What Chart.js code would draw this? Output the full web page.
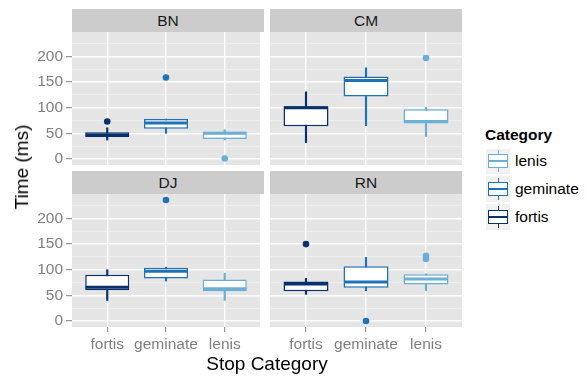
<!DOCTYPE html>
<html>
<head>
<meta charset="utf-8">
<script src="https://cdn.jsdelivr.net/npm/chart.js@4.4.0/dist/chart.umd.min.js"></script>
<style>
body { margin:0; width:587px; height:376px; position:relative; overflow:hidden; background:#fff;
       font-family:"Liberation Sans", Arial, sans-serif; }
canvas { position:absolute; }
.strip { position:absolute; background:#CCCCCC; color:#1A1A1A; font-size:15.5px; text-align:center; line-height:23px; height:23px; }
.title { position:absolute; white-space:nowrap; color:#000; font-size:19px; }
.legtitle { position:absolute; font-size:15.5px; font-weight:bold; color:#000; }
.key { position:absolute; width:26px; height:27.7px; background:#F2F2F2; box-sizing:border-box; border:1px solid #fff; }
.key div { position:absolute; box-sizing:border-box; }
.leglab { position:absolute; font-size:15.5px; color:#000; line-height:18px; }
</style>
</head>
<body>

<div class="strip" style="left:72px; top:9px; width:192px;" id="s0"></div>
<div class="strip" style="left:270px; top:9px; width:192px;" id="s1"></div>
<div class="strip" style="left:72px; top:171px; width:192px;" id="s2"></div>
<div class="strip" style="left:270px; top:171px; width:192px;" id="s3"></div>

<canvas id="c0" width="264" height="141" style="left:0px; top:28px;"></canvas>
<canvas id="c1" width="200" height="141" style="left:266px; top:28px;"></canvas>
<canvas id="c2" width="264" height="170" style="left:0px; top:190px;"></canvas>
<canvas id="c3" width="200" height="170" style="left:266px; top:190px;"></canvas>

<div class="title" style="left:22px; top:167px; transform:translate(-50%,-50%) rotate(-90deg);">Time (ms)</div>
<div class="title" style="left:267px; top:364px; transform:translate(-50%,-50%);">Stop Category</div>

<div class="legtitle" style="left:485px; top:126px;">Category</div>
<div id="legend"></div>

<script>
// DATA
const categories = ["fortis", "geminate", "lenis"];
const speakers = ["BN", "CM", "DJ", "RN"];
const catColors = ["#08306B", "#2171B5", "#6BAED6"];

// one row per speaker (BN, CM, DJ, RN), one value per category
const whiskerLow  = [[37, 50, 37], [32, 65, 44], [40, 78, 40], [52, 59, 59]];
const boxLow      = [[43, 59, 39], [64, 122, 69], [60, 83, 58], [58, 65, 71]];
const medians     = [[47, 70, 50], [100, 153, 73], [66, 97, 63], [72, 76, 82]];
const boxHigh     = [[52, 78, 53], [103, 161, 97], [90, 104, 81], [77, 107, 91]];
const whiskerHigh = [[61, 78, 57], [131, 178, 101], [100, 105, 93], [83, 124, 92]];
const outliers = [
    [[73], [159], [1]],
    [[], [], [197]],
    [[], [236], []],
    [[150], [0], [121, 127]]
];

const yMajor = [0, 50, 100, 150, 200];
const yMinor = [25, 75, 125, 175, 225];
const yMin = -11.8, yMax = 247.8;

const yGrid = [...yMajor, ...yMinor].sort((a, b) => a - b);
const isMajor = v => yMajor.includes(v);

// PANEL BACKGROUND
const panelBg = {
    id: "panelBg",
    beforeDraw(chart) {
        let { ctx, chartArea: a } = chart;
        ctx.save();
        ctx.fillStyle = "#E5E5E5";
        ctx.fillRect(a.left, a.top, a.width, a.height);
        ctx.restore();
    }
};

// MEDIAN LINES
function medianPlugin(meds) {
    return {
        id: "medians",
        afterDatasetsDraw(chart) {
            let { ctx, scales: { x, y } } = chart;
            let half = x.getPixelForValue(1.375) - x.getPixelForValue(1);
            ctx.save();
            ctx.lineWidth = 3;
            meds.forEach((m, k) => {
                let cx = x.getPixelForValue(k + 1);
                let py = y.getPixelForValue(m);
                ctx.strokeStyle = catColors[k];
                ctx.beginPath();
                ctx.moveTo(cx - half + 0.5, py);
                ctx.lineTo(cx + half - 0.5, py);
                ctx.stroke();
            });
            ctx.restore();
        }
    };
}

function makePanel(i, showY, showX) {
    let boxes = categories.map((c, k) => ({ x: k + 1, y: [boxLow[i][k], boxHigh[i][k]] }));
    let whiskers = categories.map((c, k) => ({ x: k + 1, y: [whiskerLow[i][k], whiskerHigh[i][k]] }));

    let points = [];
    let pointColors = [];
    outliers[i].forEach((arr, k) => {
        arr.forEach(v => {
            points.push({ x: k + 1, y: v });
            pointColors.push(catColors[k]);
        });
    });

    document.getElementById("s" + i).textContent = speakers[i];

    new Chart(document.getElementById("c" + i), {
        type: "bar",
        data: {
            datasets: [
                {
                    type: "bar",
                    label: "box",
                    data: boxes,
                    backgroundColor: "#FFFFFF",
                    borderColor: catColors,
                    borderWidth: 1.5,
                    borderSkipped: false,
                    grouped: false,
                    barPercentage: 0.75,
                    categoryPercentage: 1,
                    order: 0
                },
                {
                    type: "bar",
                    label: "whisker",
                    data: whiskers,
                    backgroundColor: catColors,
                    borderWidth: 0,
                    barThickness: 1.5,
                    grouped: false,
                    order: 1
                },
                {
                    type: "scatter",
                    label: "outliers",
                    data: points,
                    backgroundColor: pointColors,
                    borderWidth: 0,
                    pointRadius: 3.3,
                    order: 0
                }
            ]
        },
        options: {
            responsive: false,
            animation: false,
            devicePixelRatio: 1,
            events: [],
            layout: {
                padding: {
                    top: 4,
                    bottom: showX ? 3 : 4,
                    left: showY ? 0 : 4,
                    right: showY ? 0 : 4
                }
            },
            plugins: {
                legend: { display: false },
                tooltip: { enabled: false }
            },
            scales: {
                x: {
                    type: "linear",
                    min: 0.4,
                    max: 3.6,
                    offset: false,
                    afterBuildTicks: s => { s.ticks = categories.map((c, k) => ({ value: k + 1 })); },
                    afterFit: s => { s.height = showX ? 30 : 0; s.paddingLeft = 0; s.paddingRight = 0; },
                    border: { display: false },
                    grid: {
                        offset: false,
                        color: "#FFFFFF",
                        lineWidth: 1.4,
                        drawTicks: showX,
                        tickLength: 5,
                        tickWidth: 1,
                        tickColor: "#7F7F7F"
                    },
                    ticks: {
                        display: showX,
                        autoSkip: false,
                        maxRotation: 0,
                        padding: 3,
                        color: "#7F7F7F",
                        font: { size: 15.5 },
                        callback: v => categories[v - 1]
                    }
                },
                y: {
                    type: "linear",
                    min: yMin,
                    max: yMax,
                    afterBuildTicks: s => { s.ticks = yGrid.map(v => ({ value: v })); },
                    afterFit: s => { s.width = showY ? 72 : 0; s.paddingTop = 0; s.paddingBottom = 0; },
                    border: { display: false },
                    grid: {
                        color: c => (c.tick && isMajor(c.tick.value)) ? "#FFFFFF" : "#F2F2F2",
                        lineWidth: c => (c.tick && isMajor(c.tick.value)) ? 1.4 : 0.7,
                        drawTicks: showY,
                        tickLength: 6,
                        tickWidth: 1,
                        tickColor: c => (c.tick && isMajor(c.tick.value)) ? "#7F7F7F" : "rgba(0,0,0,0)"
                    },
                    ticks: {
                        display: showY,
                        autoSkip: false,
                        padding: 3,
                        color: "#7F7F7F",
                        font: { size: 15.5 },
                        callback: v => isMajor(v) ? String(v) : ""
                    }
                }
            }
        },
        plugins: [panelBg, medianPlugin(medians[i])]
    });
}

Chart.defaults.font.family = '"Liberation Sans", Arial, sans-serif';

makePanel(0, true, false);
makePanel(1, false, false);
makePanel(2, true, true);
makePanel(3, false, true);

// LEGEND (reversed order, as in the reference)
let legendHtml = "";
[2, 1, 0].forEach((k, r) => {
    let top = 147.5 + r * 27.7;
    let col = catColors[k];
    legendHtml += `
        <div class="key" style="left:485px; top:${top}px;">
            <div style="left:11.5px; top:1.8px; width:1.5px; height:22.1px; background:${col};"></div>
            <div style="left:1.6px; top:5.9px; width:20.8px; height:13.9px; background:#fff; border:1.5px solid ${col};"></div>
            <div style="left:1.6px; top:11.85px; width:20.8px; height:2px; background:${col};"></div>
        </div>
        <div class="leglab" style="left:515px; top:${top + 4.8}px;">${categories[k]}</div>
    `;
});
document.getElementById("legend").innerHTML = legendHtml;
</script>
</body>
</html>
